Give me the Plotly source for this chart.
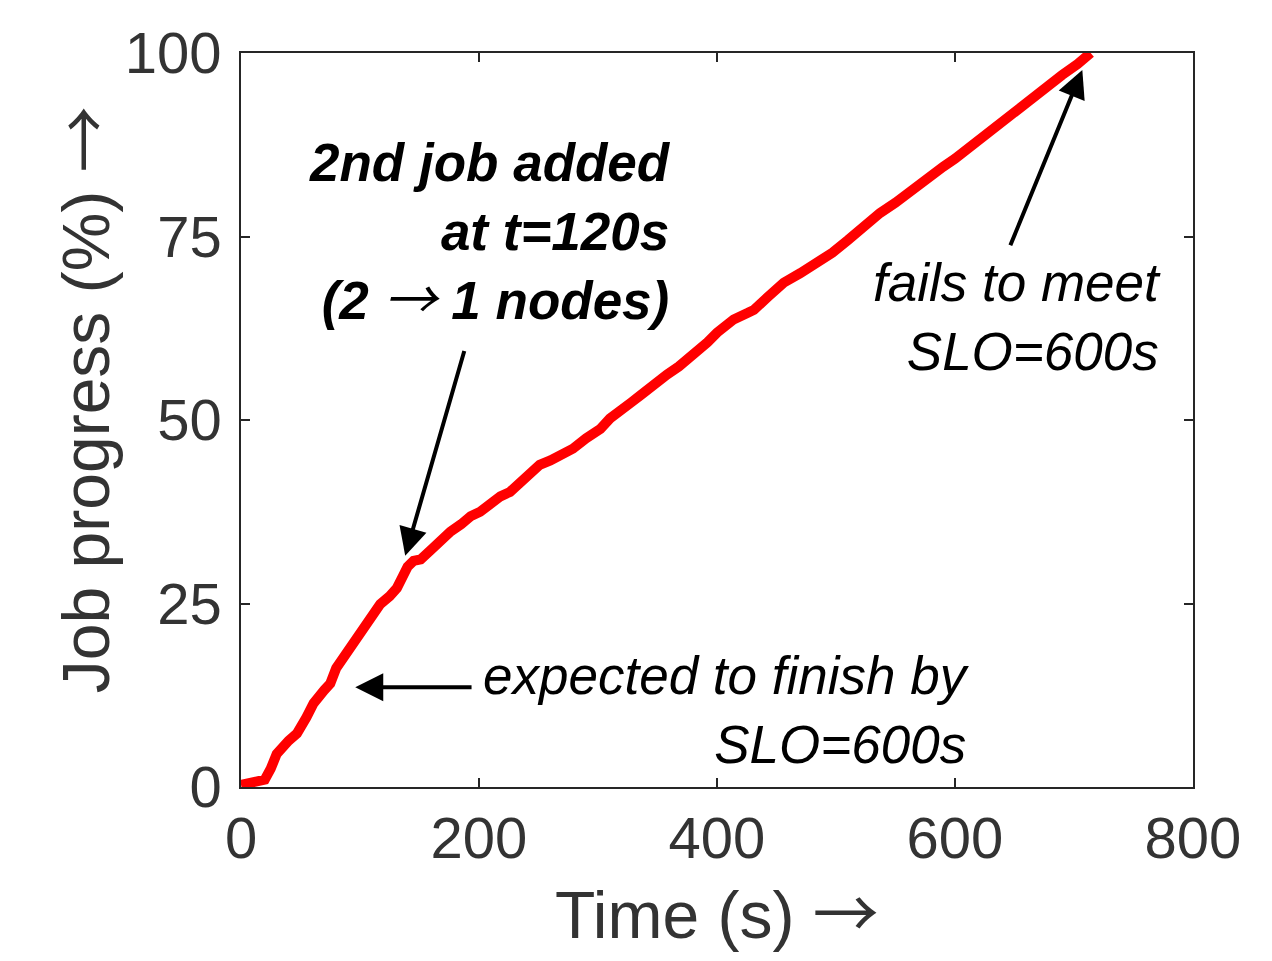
import plotly.graph_objects as go

time_s = [0, 10, 20, 25, 30, 40, 47, 55, 61, 70, 75, 80, 86, 95, 103, 110, 117, 125, 131, 136,
          140, 145, 151, 161, 168, 176, 185, 193, 201, 210, 218, 226, 235, 243, 251, 260, 270,
          279, 290, 302, 310, 319, 328, 336, 346, 358, 368, 380, 392, 400, 414, 426, 431, 443,
          456, 470, 484, 497, 510, 523, 537, 550, 563, 575, 590, 600, 613, 622, 636, 647, 658,
          670, 680, 690, 703, 710, 714]
progress = [0.3, 0.5, 1.0, 2.5, 4.5, 6.3, 7.3, 9.5, 11.4, 13.2, 14.1, 16.2, 17.6, 19.5, 21.7,
            23.5, 24.9, 26.0, 27.1, 28.7, 30.0, 30.8, 31.0, 32.5, 33.8, 34.8, 35.8, 36.9, 37.5,
            38.8, 39.6, 40.2, 41.5, 42.9, 43.9, 44.5, 45.4, 46.1, 47.5, 48.8, 50.2, 51.5, 52.4,
            53.4, 54.8, 56.2, 57.3, 58.8, 60.6, 61.9, 63.7, 64.6, 65.0, 66.8, 68.7, 70.0, 71.4,
            72.8, 74.5, 76.4, 78.2, 79.6, 81.3, 82.5, 84.5, 85.6, 87.3, 88.2, 90.1, 91.6, 93.1,
            94.5, 95.8, 97.0, 98.5, 99.6, 100.0]

x_ticks = [0, 200, 400, 600, 800]
y_ticks = [0, 25, 50, 75, 100]

FONT = "Liberation Sans, Arial, sans-serif"
ARROW = '<span style="font-family:Noto Sans CJK JP;font-weight:normal">→</span>'
AX_COLOR = "#262626"
LABEL_COLOR = "#333333"

fig = go.Figure()
fig.add_trace(go.Scatter(x=time_s, y=progress, mode="lines",
                         line=dict(color="#ff0000", width=10, shape="linear"),
                         showlegend=False, hoverinfo="skip"))

axis_common = dict(showline=True, linecolor=AX_COLOR, linewidth=1.5, mirror="ticks",
                   ticks="inside", ticklen=9, tickwidth=1.5, tickcolor=AX_COLOR,
                   showgrid=False, zeroline=False,
                   tickfont=dict(family=FONT, size=58, color=LABEL_COLOR))

fig.update_xaxes(range=[0, 800], tickvals=x_ticks, ticktext=[str(v) for v in x_ticks],
                 **axis_common)
fig.update_yaxes(range=[0, 100], tickvals=y_ticks, ticktext=[str(v) for v in y_ticks],
                 ticklabelstandoff=6, **axis_common)

annotations = [
    # x-axis title
    dict(x=0.5, y=0, xref="paper", yref="paper", yshift=-122, showarrow=False,
         xanchor="center", yanchor="middle",
         text="Time (s) " + ARROW,
         font=dict(family=FONT, size=66, color=LABEL_COLOR)),
    # y-axis title
    dict(x=0, y=0.527, xref="paper", yref="paper", xshift=-161, showarrow=False,
         xanchor="center", yanchor="middle", textangle=-90,
         text="Job progress (%) " + ARROW,
         font=dict(family=FONT, size=66, color=LABEL_COLOR)),
    # arrows
    dict(x=138, y=31.5, ax=188, ay=59.6, xref="x", yref="y", axref="x", ayref="y",
         showarrow=True, arrowhead=2, arrowsize=1.4, arrowwidth=4, arrowcolor="black", text=""),
    dict(x=96, y=13.6, ax=195, ay=13.6, xref="x", yref="y", axref="x", ayref="y",
         showarrow=True, arrowhead=2, arrowsize=1.4, arrowwidth=4, arrowcolor="black", text=""),
    dict(x=707, y=97.7, ax=646, ay=73.6, xref="x", yref="y", axref="x", ayref="y",
         showarrow=True, arrowhead=2, arrowsize=1.4, arrowwidth=4, arrowcolor="black", text=""),
    # texts
    dict(x=363, y=75.4, xref="x", yref="y", showarrow=False, xanchor="right", yanchor="middle",
         align="right",
         text="<b><i>2nd job added<br>at t=120s<br>(2 " + ARROW + " 1 nodes)</i></b>",
         font=dict(family=FONT, size=53, color="black")),
    dict(x=614, y=10.5, xref="x", yref="y", showarrow=False, xanchor="right", yanchor="middle",
         align="right", text="<i>expected to finish by<br>SLO=600s</i>",
         font=dict(family=FONT, size=53, color="black")),
    dict(x=775, y=64, xref="x", yref="y", showarrow=False, xanchor="right", yanchor="middle",
         align="right", text="<i>fails to meet<br>SLO=600s</i>",
         font=dict(family=FONT, size=53, color="black")),
]

fig.update_layout(width=1272, height=961, paper_bgcolor="white", plot_bgcolor="white",
                  margin=dict(l=233, r=87, t=43, b=182), annotations=annotations)

fig.write_html("out.html")
